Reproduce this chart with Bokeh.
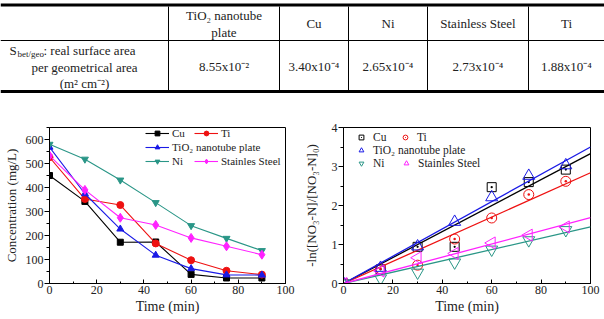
import numpy as np
from bokeh.plotting import figure
from bokeh.models import Range1d, Legend, LegendItem, SingleIntervalTicker
from bokeh.layouts import column, row
from bokeh.embed import file_html
from bokeh.resources import INLINE
from bokeh.core.properties import value

FONT = "Liberation Serif"

# ---------------- data ----------------
table_headers = ["Cu", "Ni", "Stainless Steel", "Ti"]
table_header_tio2 = ["TiO₂ nanotube", "plate"]
table_values = ["8.55x10⁻²", "3.40x10⁻⁴", "2.65x10⁻⁴", "2.73x10⁻⁴", "1.88x10⁻⁴"]
row_label_lines = ["per geometrical area", "(m² cm⁻²)"]

time = [0, 15, 30, 45, 60, 75, 90]
conc_cu = [450, 342, 172, 173, 38, 23, 23]
conc_ti = [526, 352, 327, 167, 97, 53, 37]
conc_tio2 = [568, 374, 227, 118, 62, 36, 35]
conc_ni = [580, 518, 431, 337, 241, 188, 137]
conc_ss = [533, 390, 274, 244, 190, 155, 120]

ln_cu = [0, 0.36, 0.94, 0.94, 2.47, 2.60, 2.92]
ln_ti = [0, 0.38, 0.47, 1.14, 1.68, 2.28, 2.62]
ln_tio2 = [0, 0.40, 0.95, 1.58, 2.21, 2.76, 3.03]
ln_ni = [0, 0.13, 0.28, 0.54, 0.87, 1.11, 1.37]
ln_ss = [0, 0.32, 0.66, 0.77, 1.04, 1.24, 1.45]

fit_x = [0, 100]
slope_cu, slope_ti, slope_tio2, slope_ni, slope_ss = 0.0333, 0.0284, 0.0350, 0.0145, 0.0169

C_CU, C_TI, C_TIO2, C_NI, C_SS = "black", "#ee1111", "#1a1ae6", "#2a9687", "#ff22ff"

# ---------------- table ----------------
t = figure(width=604, height=100, x_range=Range1d(0, 604), y_range=Range1d(100, 0),
           output_backend="svg", toolbar_location=None, min_border=0)
t.axis.visible = False
t.grid.visible = False
t.outline_line_color = None

col_edges = [0, 168, 279, 348, 427, 528, 604]
centers = [(col_edges[i] + col_edges[i + 1]) / 2 for i in range(len(col_edges) - 1)]

t.segment(x0=[0, 0, 0], x1=[604, 604, 604], y0=[4.5, 40, 91], y1=[4.5, 40, 91],
          line_color="black", line_width=[3, 1, 3])
t.segment(x0=col_edges[1:-1], x1=col_edges[1:-1], y0=[6] * 5, y1=[89.5] * 5,
          line_color="black", line_width=1)

tk = dict(text_font=value(FONT), text_font_size="13px", text_color="#222222")
t.text(x=[centers[1]] * 2, y=[15, 32], text=table_header_tio2,
       text_align="center", text_baseline="middle", **tk)
t.text(x=centers[2:], y=[23] * 4, text=table_headers,
       text_align="center", text_baseline="middle", **tk)
t.text(x=centers[1:], y=[66] * 5, text=table_values,
       text_align="center", text_baseline="middle", **tk)
# row label
t.text(x=[9], y=[50], text=["S"], text_align="left", text_baseline="middle", **tk)
t.text(x=[17], y=[53], text=["bet/geo"], text_align="left", text_baseline="middle",
       text_font=value(FONT), text_font_size="9px", text_color="#222222")
t.text(x=[43], y=[50], text=[": real surface area"], text_align="left",
       text_baseline="middle", **tk)
t.text(x=[centers[0]] * 2, y=[67, 83], text=row_label_lines,
       text_align="center", text_baseline="middle", **tk)


# ---------------- plots ----------------
def style(p):
    p.grid.visible = False
    p.outline_line_color = "black"
    p.outline_line_width = 1
    p.background_fill_color = "white"
    p.border_fill_color = "white"
    for ax in p.axis:
        ax.axis_line_color = "black"
        ax.major_tick_line_color = "black"
        ax.minor_tick_line_color = "black"
        ax.major_label_text_font = FONT
        ax.major_label_text_font_size = "12px"
        ax.major_label_text_color = "#222222"
        ax.axis_label_text_font = FONT
        ax.axis_label_text_font_style = "normal"
        ax.axis_label_text_color = "#222222"
    p.xaxis.ticker = SingleIntervalTicker(interval=20, num_minor_ticks=2)
    p.xaxis.major_tick_in = 4
    p.xaxis.major_tick_out = 0
    p.xaxis.minor_tick_in = 2
    p.xaxis.minor_tick_out = 0
    p.xaxis.major_label_standoff = 2
    p.xaxis.axis_label_standoff = 2
    p.xaxis.axis_label_text_font_size = "14px"
    p.yaxis.major_tick_in = 0
    p.yaxis.major_tick_out = 5
    p.yaxis.minor_tick_in = 0
    p.yaxis.minor_tick_out = 3
    p.yaxis.major_label_standoff = 1
    p.yaxis.axis_label_text_font_size = "13px"


def legend(items, loc, size, gw, std, sp):
    return Legend(items=items, location=loc, orientation="horizontal",
                  label_text_font=FONT, label_text_font_size=size, label_text_color="#222222",
                  glyph_width=gw, glyph_height=12, label_height=12, label_standoff=std,
                  spacing=sp, padding=0, margin=0, border_line_alpha=0,
                  background_fill_alpha=0)


# left plot
pl = figure(width=300, height=219, x_range=Range1d(0, 100), y_range=Range1d(0, 650),
            output_backend="svg", toolbar_location=None,
            min_border_left=45, min_border_right=15, min_border_top=27, min_border_bottom=36,
            x_axis_label="Time (min)", y_axis_label="Concentration (mg/L)")
style(pl)
pl.yaxis.ticker = SingleIntervalTicker(interval=100, num_minor_ticks=2)
pl.yaxis.axis_label_standoff = 4

series_l = [(conc_cu, C_CU, "square", 6), (conc_ti, C_TI, "circle", 7),
            (conc_tio2, C_TIO2, "triangle", 7), (conc_ni, C_NI, "inverted_triangle", 7),
            (conc_ss, C_SS, "diamond", 9)]
rl = []
for ys, c, m, s in series_l:
    ln = pl.line(time, ys, line_color=c, line_width=1.1)
    sc = pl.scatter(time, ys, marker=m, size=s, fill_color=c, line_color=c)
    rl.append([ln, sc])

pl.add_layout(legend([LegendItem(label="Cu", renderers=rl[0]),
                      LegendItem(label="Ti", renderers=rl[1])], (96, 144), "11px", 24, 3, 2), "center")
pl.add_layout(legend([LegendItem(label="TiO₂ nanotube plate", renderers=rl[2])],
                     (96, 130), "11px", 24, 3, 2), "center")
pl.add_layout(legend([LegendItem(label="Ni", renderers=rl[3]),
                      LegendItem(label="Stainles Steel", renderers=rl[4])], (96, 116), "11px", 24, 3, 2), "center")

# right plot
pr = figure(width=304, height=219, x_range=Range1d(0, 100), y_range=Range1d(0, 4),
            output_backend="svg", toolbar_location=None,
            min_border_left=42, min_border_right=14, min_border_top=27, min_border_bottom=36,
            x_axis_label="Time (min)", y_axis_label="-ln([NO₃-N]/[NO₃-N]₀)")
style(pr)
pr.yaxis.ticker = SingleIntervalTicker(interval=1, num_minor_ticks=2)
pr.yaxis.axis_label_standoff = 10

series_r = [(ln_cu, slope_cu, C_CU, "square_dot", 9, 0.0),
            (ln_ti, slope_ti, C_TI, "circle_dot", 10, 0.0),
            (ln_tio2, slope_tio2, C_TIO2, "triangle", 12, 0.0),
            (ln_ni, slope_ni, C_NI, "inverted_triangle", 12, 0.0),
            (ln_ss, slope_ss, C_SS, "triangle", 12, np.pi / 2)]
rr = []
for ys, k, c, m, s, a in series_r:
    pr.line(fit_x, [k * x for x in fit_x], line_color=c, line_width=1.3)
    sc = pr.scatter(time, ys, marker=m, size=s, angle=a, fill_alpha=0,
                    line_color=c, line_width=1)
    rr.append(sc)

pr.add_layout(legend([LegendItem(label="Cu", renderers=[rr[0]]),
                      LegendItem(label="Ti", renderers=[rr[1]])], (11, 140), "11.5px", 14, 5, 5), "center")
pr.add_layout(legend([LegendItem(label="TiO₂ nanotube plate", renderers=[rr[2]])],
                     (11, 127), "11.5px", 14, 5, 5), "center")
pr.add_layout(legend([LegendItem(label="Ni", renderers=[rr[3]]),
                      LegendItem(label="Stainles Steel", renderers=[rr[4]])], (11, 114), "11.5px", 14, 5, 6), "center")

layout = column(t, row(pl, pr, spacing=0), spacing=0)
open("out.html", "w").write(file_html(layout, INLINE))
